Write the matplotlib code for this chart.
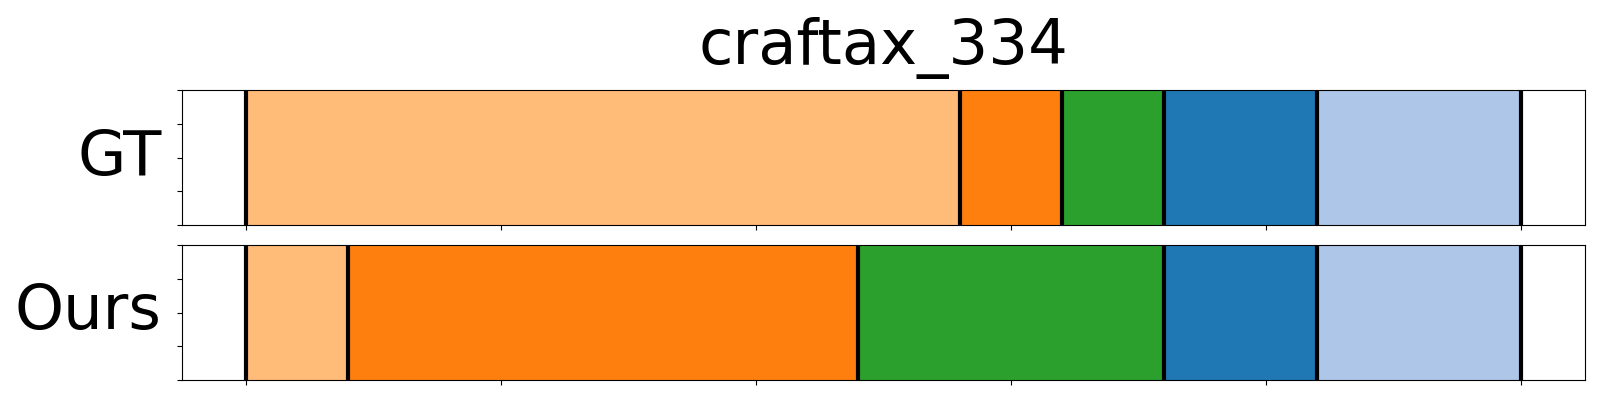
import numpy as np
import matplotlib
matplotlib.use("Agg")
import matplotlib.pyplot as plt

title = "craftax_334"
row_names = ["GT", "Ours"]

# segment boundaries (frame index) and segment action ids
gt_bounds = [0, 140, 160, 180, 210, 250]
gt_labels = [0, 1, 2, 3, 4]
ours_bounds = [0, 20, 120, 180, 210, 250]
ours_labels = [0, 1, 2, 3, 4]

colors = ["#ffbb78", "#ff7f0e", "#2ca02c", "#1f77b4", "#aec7e8"]

fig = plt.figure(figsize=(16, 4), dpi=100)
ax1 = fig.add_axes([0.1136, 0.4375, 0.877, 0.3375])
ax2 = fig.add_axes([0.1136, 0.05, 0.877, 0.3375], sharex=ax1)

for ax, bounds, labels, name in [(ax1, gt_bounds, gt_labels, row_names[0]),
                                 (ax2, ours_bounds, ours_labels, row_names[1])]:
    for i, lab in enumerate(labels):
        ax.axvspan(bounds[i], bounds[i + 1], ymin=0, ymax=1, color=colors[lab], lw=0)
    for b in bounds:
        ax.axvline(b, color="black", lw=3)
    ax.set_ylim(0, 1)
    ax.set_xlim(-12.5, 262.5)
    ax.set_xticks(np.arange(0, 251, 50))
    ax.set_yticks([0, 0.25, 0.5, 0.75, 1])
    ax.set_xticklabels([])
    ax.set_yticklabels([])
    ax.set_ylabel(name, fontsize=45, rotation=0, ha="right", va="center", labelpad=7.5)

ax1.set_title(title, fontsize=45, pad=19)

fig.savefig("out.png", dpi=100)
